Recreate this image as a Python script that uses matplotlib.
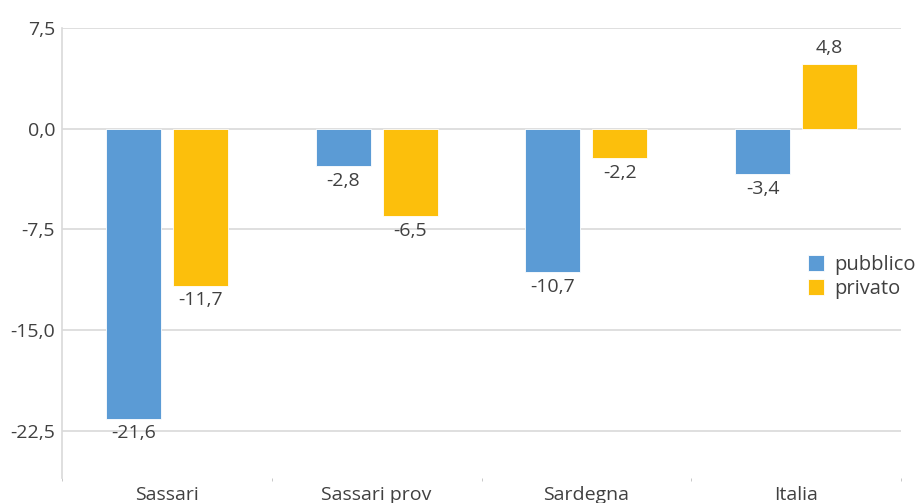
import matplotlib
matplotlib.use("Agg")
import matplotlib.pyplot as plt
import numpy as np

categories = ["Sassari", "Sassari prov", "Sardegna", "Italia"]
pubblico = [-21.6, -2.8, -10.7, -3.4]
privato = [-11.7, -6.5, -2.2, 4.8]
series_names = ["pubblico", "privato"]
colors = ["#5B9BD5", "#FCBF0C"]
yticks = [7.5, 0.0, -7.5, -15.0, -22.5]

plt.rcParams['font.family'] = ['Open Sans', 'DejaVu Sans']
text_color = "#404040"
fs = 14

fig = plt.figure(figsize=(9.21, 5.03), dpi=100)
ax = fig.add_axes([62/921, 25/503, (901-62)/921, (478-28)/503])

x = np.arange(len(categories))
w = 0.262
off = 0.16
b1 = ax.bar(x - off, pubblico, w, color=colors[0], label=series_names[0], edgecolor="white", linewidth=0.6, zorder=3)
b2 = ax.bar(x + off, privato, w, color=colors[1], label=series_names[1], edgecolor="white", linewidth=0.6, zorder=3)

def fmt(v):
    return f"{v:.1f}".replace(".", ",")

for bars, vals in ((b1, pubblico), (b2, privato)):
    for rect, v in zip(bars, vals):
        cx = rect.get_x() + rect.get_width() / 2
        if v < 0:
            ax.annotate(fmt(v), (cx, v), xytext=(0, -4), textcoords="offset points",
                        ha="center", va="top", fontsize=fs, color=text_color)
        else:
            ax.annotate(fmt(v), (cx, v), xytext=(0, 5), textcoords="offset points",
                        ha="center", va="bottom", fontsize=fs, color=text_color)

ax.set_xlim(-0.5, len(categories) - 0.5)
ax.set_ylim(-26.0, 7.5)
ax.set_yticks(yticks)
ax.set_yticklabels([fmt(v) for v in yticks], fontsize=fs, color=text_color)
ax.tick_params(axis="y", length=0, pad=5)
ax.grid(axis="y", color="#d9d9d9", linewidth=1.2, zorder=0)

ax.set_xticks(x)
ax.set_xticklabels(categories, fontsize=fs, color=text_color)
ax.tick_params(axis="x", length=0, pad=6)
ax.set_xticks(np.arange(len(categories) + 1) - 0.5, minor=True)
ax.tick_params(axis="x", which="minor", length=2, color="#bfbfbf", direction="out")

for s in ["top", "right", "bottom"]:
    ax.spines[s].set_visible(False)
ax.spines["left"].set_color("#d9d9d9")
ax.spines["left"].set_linewidth(1.2)

leg = ax.legend(loc="upper left", bbox_to_anchor=(808/921, (503-255)/503), bbox_transform=fig.transFigure,
                frameon=False, fontsize=14.5, handlelength=0.8, handleheight=0.8,
                handletextpad=0.5, labelspacing=0.2, borderaxespad=0, borderpad=0)
for t in leg.get_texts():
    t.set_color(text_color)

fig.savefig("out.png", dpi=100)
